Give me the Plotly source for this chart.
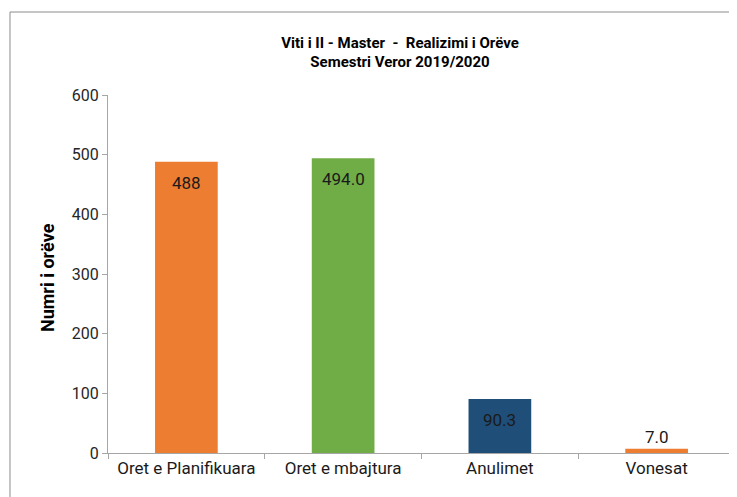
import plotly.graph_objects as go

categories = ["Oret e Planifikuara", "Oret e mbajtura", "Anulimet", "Vonesat"]
values = [488, 494.0, 90.3, 7.0]
value_labels = ["488", "494.0", "90.3", "7.0"]
bar_colors = ["#ED7D31", "#70AD47", "#1F4E79", "#ED7D31"]
label_inside = [True, True, True, False]
y_ticks = [0, 100, 200, 300, 400, 500, 600]

FONT = "Roboto, Liberation Sans, sans-serif"

fig = go.Figure()
fig.add_trace(go.Bar(
    x=categories, y=values,
    marker=dict(color=bar_colors, line=dict(width=0)),
    width=0.4, hoverinfo="skip",
))

for c, v, t, ins in zip(categories, values, value_labels, label_inside):
    fig.add_annotation(
        x=c, y=v, text=t, showarrow=False, xref="x", yref="y",
        yanchor="middle", yshift=-21 if ins else 12,
        font=dict(family=FONT, size=17, color="#1a1a1a"),
    )

# y axis title
fig.add_annotation(
    text="<b>Numri i orëve</b>", xref="paper", yref="paper",
    x=-0.0973, y=0.4916, xanchor="center", yanchor="middle",
    textangle=-90, showarrow=False,
    font=dict(family=FONT, size=18, color="#000000"),
)

# chart frame
fig.add_shape(type="rect", xref="paper", yref="paper",
              x0=-0.1563, x1=1.1, y0=-0.3, y1=1.2318,
              line=dict(color="#8c8c8c", width=1), fillcolor="rgba(0,0,0,0)", layer="below")

fig.update_layout(
    width=729, height=489,
    margin=dict(l=100, r=2, t=87, b=44),
    paper_bgcolor="white", plot_bgcolor="white",
    showlegend=False,
    font=dict(family=FONT, size=16, color="#262626"),
    title=dict(
        text="<b>Viti i II - Master\u00a0 -\u00a0 Realizimi i Orëve<br>Semestri Veror 2019/2020</b>",
        xref="paper", x=0.4657, xanchor="center",
        yref="container", y=1 - 39.5 / 489, yanchor="middle",
        font=dict(family=FONT, size=15, color="#000000"),
    ),
    xaxis=dict(
        showline=True, linecolor="#a6a6a6", linewidth=1,
        ticks="outside", tickson="boundaries", ticklen=5, tickcolor="#a6a6a6",
        showgrid=False, tickfont=dict(size=17, color="#1a1a1a"),
        range=[-0.5, 3.5],
    ),
    yaxis=dict(
        range=[0, 600], tickvals=y_ticks, showline=True, linecolor="#a6a6a6",
        linewidth=1, ticks="outside", ticklen=5, tickcolor="#a6a6a6",
        showgrid=False, zeroline=False, tickfont=dict(size=16, color="#262626"),
    ),
    bargap=0.6,
)

fig.write_html("out.html")
